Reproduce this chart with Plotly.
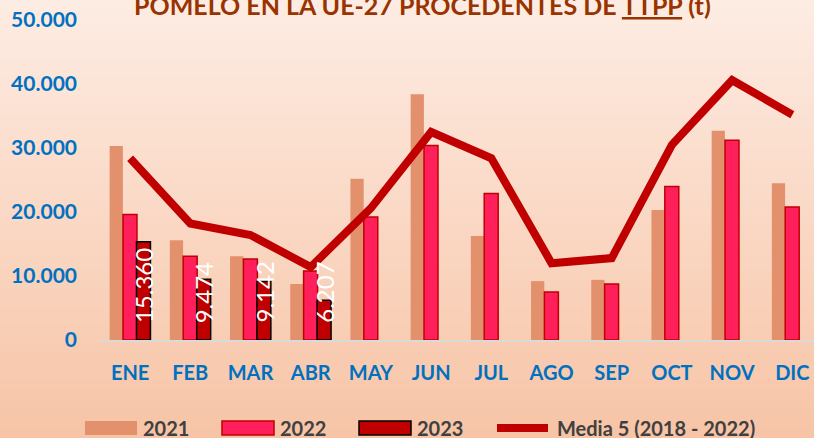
import plotly.graph_objects as go

# Monthly imports of pomelo into the EU-27 from third countries (tonnes)
meses = ["ENE", "FEB", "MAR", "ABR", "MAY", "JUN", "JUL", "AGO", "SEP", "OCT", "NOV", "DIC"]
v2021 = [30300, 15600, 13100, 8750, 25200, 38400, 16250, 9200, 9400, 20300, 32700, 24500]
v2022 = [19600, 13100, 12650, 10800, 19200, 30400, 22900, 7500, 8750, 24000, 31200, 20800]
v2023 = [15360, 9474, 9142, 6207]
media5 = [28400, 18200, 16400, 11400, 20600, 32500, 28400, 12000, 12800, 30500, 40600, 35200]
yticks = [0, 10000, 20000, 30000, 40000, 50000]
ytick_text = ["0", "10.000", "20.000", "30.000", "40.000", "50.000"]

W, H = 814, 438
ML, MR, MT, MB = 100, 0, 20, 98
PW, PH = W - ML - MR, H - MT - MB


def px(x):
    return (x - ML) / PW


def py(y):
    return (H - MB - y) / PH


def fmt(v):
    return f"{v:,}".replace(",", ".")


BLUE = "#0070c0"
FONT = "Lato"

fig = go.Figure()
fig.add_trace(go.Bar(x=meses, y=v2021, name="2021", offset=-0.34, width=0.22,
                     marker=dict(color="#e3916d", line=dict(width=0))))
fig.add_trace(go.Bar(x=meses, y=v2022, name="2022", offset=-0.118, width=0.232,
                     marker=dict(color="#ff1f5a", line=dict(color="#c00000", width=1.5))))
fig.add_trace(go.Bar(x=meses[:len(v2023)], y=v2023, name="2023", offset=0.106, width=0.232,
                     marker=dict(color="#c00000", line=dict(color="#000000", width=1.5))))
fig.add_trace(go.Scatter(x=meses, y=media5, name="Media 5 (2018 - 2022)", mode="lines",
                         line=dict(color="#c00000", width=8)))

# vertical gradient background built from thin bands
shapes = []
top = (253, 236, 227)
bot = (247, 196, 166)
n = 88
for i in range(n):
    t = i / (n - 1)
    c = tuple(round(top[k] + (bot[k] - top[k]) * t) for k in range(3))
    y0 = H * i / n
    y1 = H * (i + 1) / n + 0.6
    shapes.append(dict(type="rect", xref="paper", yref="paper", layer="below",
                       x0=px(0), x1=px(W), y0=py(y1), y1=py(y0),
                       line=dict(width=0), fillcolor=f"rgb{c}"))

annotations = []
# 2023 value labels, written upward from the base of each bar
for i, v in enumerate(v2023):
    annotations.append(dict(x=meses[i], y=0, xref="x", yref="y", text=fmt(v),
                            textangle=-90, showarrow=False, xshift=13.5, yshift=15,
                            xanchor="center", yanchor="bottom",
                            font=dict(family=FONT, size=24, color="white")))

# title
annotations.append(dict(x=px(422), y=py(5), xref="paper", yref="paper",
                        text="<b>POMELO EN LA UE-27 PROCEDENTES DE <u>TTPP</u> (t)</b>",
                        showarrow=False, xanchor="center", yanchor="middle",
                        font=dict(family=FONT, size=25, color="#993300")))

# legend
LY = 428
legend_items = [
    ("2021", 85, 137, "#e3916d", None),
    ("2022", 222, 274, "#ff1f5a", "#c00000"),
    ("2023", 359, 411, "#c00000", "#000000"),
]
for label, x0, x1, fill, edge in legend_items:
    shapes.append(dict(type="rect", xref="paper", yref="paper", x0=px(x0), x1=px(x1),
                       y0=py(LY + 7), y1=py(LY - 7), fillcolor=fill,
                       line=dict(color=edge if edge else fill, width=1.5 if edge else 0)))
    annotations.append(dict(x=px(x1 + 4), y=py(LY), xref="paper", yref="paper", text=f"<b>{label}</b>",
                            showarrow=False, xanchor="left", yanchor="middle",
                            font=dict(family=FONT, size=20, color="#404040")))
shapes.append(dict(type="line", xref="paper", yref="paper", x0=px(497), x1=px(548),
                   y0=py(LY), y1=py(LY), line=dict(color="#c00000", width=8)))
annotations.append(dict(x=px(555), y=py(LY), xref="paper", yref="paper",
                        text="<b>Media 5 (2018 - 2022)</b>", showarrow=False,
                        xanchor="left", yanchor="middle",
                        font=dict(family=FONT, size=20, color="#404040")))

fig.update_layout(
    width=W, height=H,
    margin=dict(l=ML, r=MR, t=MT, b=MB, pad=0),
    paper_bgcolor="#f9d8c5", plot_bgcolor="rgba(0,0,0,0)",
    barmode="overlay", showlegend=False,
    shapes=shapes, annotations=annotations,
    font=dict(family=FONT),
    xaxis=dict(type="category", range=[-0.5, 11.36], showgrid=False,
               showline=True, linecolor="#d9d9d9", linewidth=2,
               tickfont=dict(family=FONT, size=20, color=BLUE),
               ticklabelstandoff=14,
               tickvals=meses, ticktext=[f"<b>{m}</b>" for m in meses]),
    yaxis=dict(range=[0, 50000], showgrid=False, zeroline=False, showline=False,
               tickvals=yticks, ticktext=[f"<b>{t}</b>" for t in ytick_text],
               tickfont=dict(family=FONT, size=21, color=BLUE),
               ticklabelstandoff=22),
)

fig.write_html("out.html")
